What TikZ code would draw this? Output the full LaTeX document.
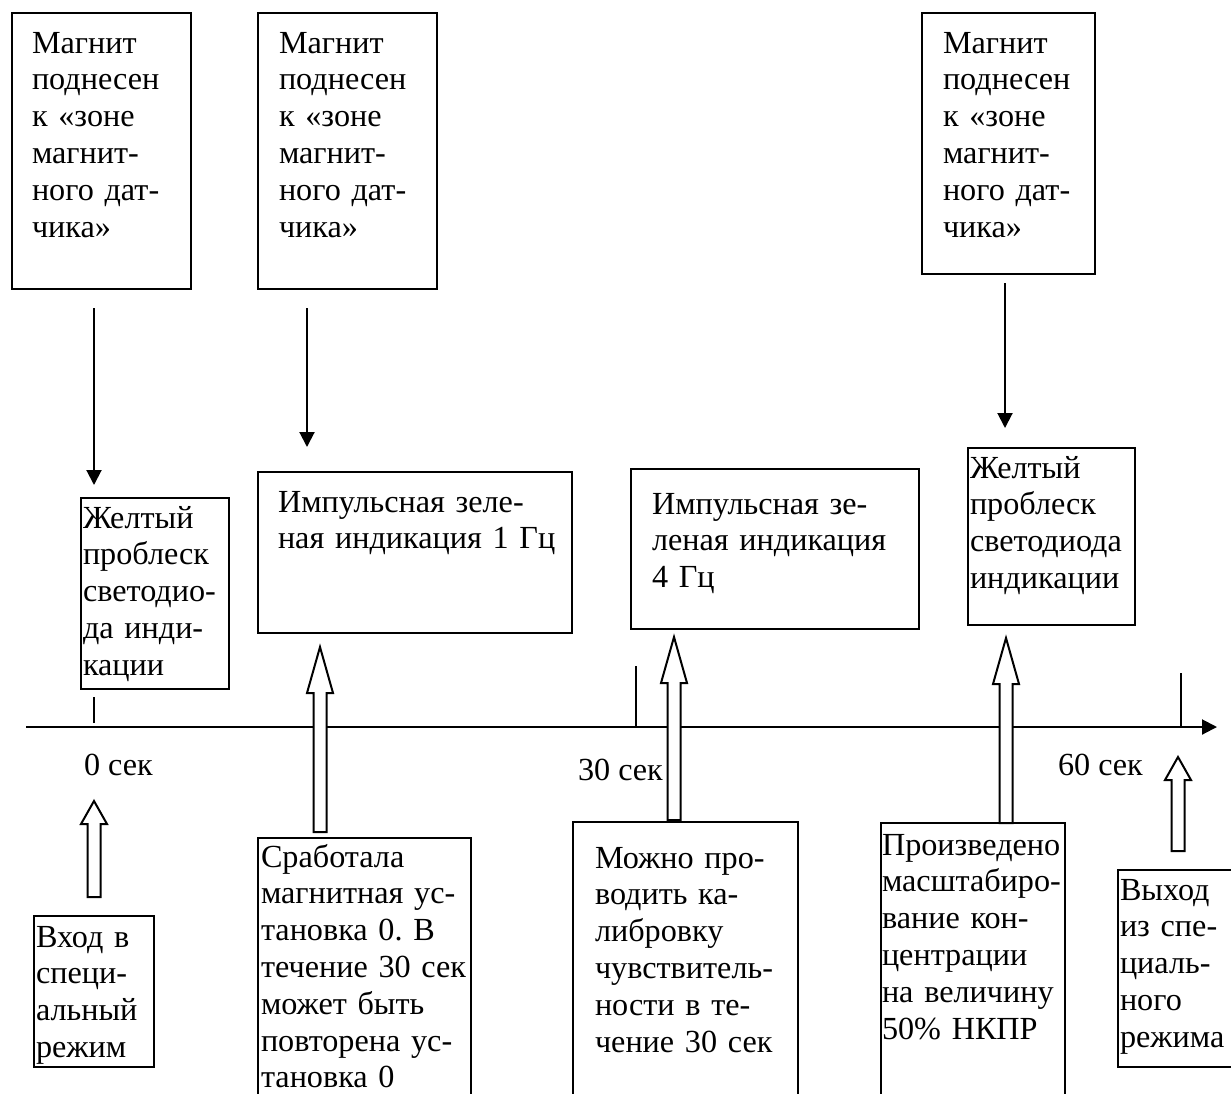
\documentclass[tikz,border=0pt]{standalone}
\usepackage{fontspec}
\setmainfont{Liberation Serif}
\usetikzlibrary{arrows.meta, calc}
\tikzset{
  every picture/.style={x=0.5pt, y=-0.5pt, line width=1pt},
  every node/.style={font=\fontsize{16.1}{18.4}\selectfont},
  cell/.style n args={4}{draw, anchor=base west, inner sep=0pt, outer sep=0pt, align=left,
    text width=#1, text height=#2, text depth=#3, execute at begin node={\leftskip #4\relax}},
  thinarrow/.style={-{Triangle[length=7.5pt, width=7.5pt]}},
  hollow/.style={draw, fill=white, line join=miter},
  lbl/.style={anchor=base west, inner sep=0pt},
}
\newcommand{\blockarrow}[3][46]{%
  \draw[hollow] ($(#2)+(-6.5,0)$) -- ($(#3)+(-6.5,#1)$) -- ($(#3)+(-13,#1)$) -- (#3)
    -- ($(#3)+(13,#1)$) -- ($(#3)+(6.5,#1)$) -- ($(#2)+(6.5,0)$) -- cycle;}

\begin{document}
\hyphenpenalty=10000
\frenchspacing
\begin{tikzpicture}
  \useasboundingbox (0,0) rectangle (1231,1093);
  \node[cell={89.5pt}{20pt}{118pt}{10pt}] (T1) at (12,53) {Магнит\\поднесен\\к «зоне\\магнит-\\ного дат-\\чика»};
  \node[cell={89.5pt}{20pt}{118pt}{10.5pt}] (T2) at (258,53) {Магнит\\поднесен\\к «зоне\\магнит-\\ного дат-\\чика»};
  \node[cell={86.5pt}{20pt}{110.5pt}{10.5pt}] (T3) at (922,53) {Магнит\\поднесен\\к «зоне\\магнит-\\ного дат-\\чика»};

  \node[cell={74pt}{15pt}{80.5pt}{1pt}] (M1) at (81,528) {Желтый\\проблеск\\светодио-\\да инди-\\кации};
  \node[cell={157pt}{20pt}{60.5pt}{10pt}] (M2) at (258,512) {Импульсная зеле-\\ная индикация 1 Гц};
  \node[cell={144pt}{22.5pt}{57.5pt}{10.5pt}] (M3) at (631,514) {Импульсная зе-\\леная индикация\\4 Гц};
  \node[cell={83.5pt}{15pt}{73.5pt}{1pt}] (M4) at (968,478) {Желтый\\проблеск\\светодиода\\индикации};

  \node[cell={60pt}{15.5pt}{60pt}{1pt}] (B0) at (34,947) {Вход в\\специ-\\альный\\режим};
  \node[cell={106.5pt}{14.5pt}{116.5pt}{1.5pt}] (B1) at (258,867) {Сработала\\магнитная ус-\\тановка 0. В\\течение 30 сек\\может быть\\повторена ус-\\тановка 0};
  \node[cell={112.5pt}{23pt}{116pt}{11pt}] (B2) at (573,868) {Можно про-\\водить ка-\\либровку\\чувствитель-\\ности в те-\\чение 30 сек};
  \node[cell={92pt}{16pt}{122.5pt}{0.5pt}] (B3) at (881,855) {Произведено\\масштабиро-\\вание кон-\\центрации\\на величину\\50\% НКПР};
  \node[cell={61pt}{15pt}{83.5pt}{1pt}] (B4) at (1118,900) {Выход\\из спе-\\циаль-\\ного\\режима};

  \coordinate (ax0) at (26,727);
  \coordinate (ax1) at (1217,727);
  \coordinate (t0) at (94,727);
  \coordinate (t30) at (636,727);
  \coordinate (t60) at (1181,727);
  \draw[thinarrow] (ax0) -- (ax1);
  \draw ($(t0)+(0,-4)$) -- ($(t0)+(0,-30)$);
  \draw (t30) -- ($(t30)+(0,-61)$);
  \draw (t60) -- ($(t60)+(0,-54)$);
  \node[lbl] (s0) at (83,775) {0 сек};
  \node[lbl] (s30) at (577,780) {30 сек};
  \node[lbl] (s60) at (1057,775) {60 сек};

  \draw[thinarrow, shorten <=9.5pt, shorten >=6.5pt] (T1.south -| t0) -- (M1.north -| t0);
  \draw[thinarrow, shorten <=9.5pt, shorten >=12.5pt] ([xshift=24.5pt]T2.south west) coordinate (a2) -- (a2 |- M2.north);
  \draw[thinarrow, shorten <=4.5pt, shorten >=10pt] ([xshift=41.5pt]T3.south west) coordinate (a3) -- (a3 |- M4.north);

  \coordinate (h0a) at (94,897);   \coordinate (h0b) at (94,801);
  \coordinate (h1a) at (320,832);  \coordinate (h1b) at (320,647);
  \coordinate (h2a) at (674,820);  \coordinate (h2b) at (674,637);
  \coordinate (h3a) at (1006,823); \coordinate (h3b) at (1006,638);
  \coordinate (h4a) at (1178,851); \coordinate (h4b) at (1178,757);
  \blockarrow[23]{h0a}{h0b}
  \blockarrow{h1a}{h1b}
  \blockarrow{h2a}{h2b}
  \blockarrow{h3a}{h3b}
  \blockarrow[23]{h4a}{h4b}
\end{tikzpicture}
\end{document}
